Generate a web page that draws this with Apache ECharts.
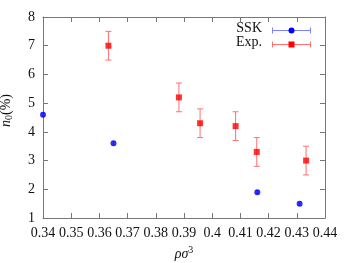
<!DOCTYPE html>
<html><head><meta charset="utf-8">
<script src="https://cdn.jsdelivr.net/npm/echarts@6/dist/echarts.min.js"></script>
<style>html,body{margin:0;padding:0;background:#fff}#c{width:350px;height:263px}</style>
</head><body><div id="c"></div>
<script>
const sskX = [0.340, 0.365, 0.416, 0.431];
const sskY = [4.6, 3.6, 1.9, 1.5];
const sskErr = [0.06, 0.06, 0.06, 0.06];
const expX = [0.3632, 0.3882, 0.3957, 0.4083, 0.4158, 0.4333];
const expY = [7.0, 5.2, 4.3, 4.2, 3.3, 3.0];
const expErr = [0.5, 0.5, 0.5, 0.5, 0.5, 0.5];
const xTicks = [0.34,0.35,0.36,0.37,0.38,0.39,0.40,0.41,0.42,0.43,0.44];
const yTicks = [1,2,3,4,5,6,7,8];

const FONT = 'Liberation Serif';
const chart = echarts.init(document.getElementById('c'));

function errSeries(xs, ys, es, color, cap) {
  return {
    type: 'custom',
    data: xs.map((x,i)=>[x, ys[i]-es[i], ys[i]+es[i]]),
    z: 1,
    renderItem: function(params, api) {
      const lo = api.coord([api.value(0), api.value(1)]);
      const hi = api.coord([api.value(0), api.value(2)]);
      const st = {stroke: color, lineWidth: 1};
      return {type:'group', children:[
        {type:'line', shape:{x1:lo[0],y1:lo[1],x2:hi[0],y2:hi[1]}, style:st},
        {type:'line', shape:{x1:lo[0]-cap,y1:lo[1],x2:lo[0]+cap,y2:lo[1]}, style:st},
        {type:'line', shape:{x1:hi[0]-cap,y1:hi[1],x2:hi[0]+cap,y2:hi[1]}, style:st}
      ]};
    }
  };
}

const axisCommon = {
  axisLine:{show:true, lineStyle:{color:'#777', width:1}},
  axisTick:{show:true, inside:true, length:5, lineStyle:{color:'#777'}},
  splitLine:{show:false}
};

chart.setOption({
  animation:false,
  grid:{left:43, right:25, top:17, bottom:45, containLabel:false, outerBoundsMode:'none'},
  xAxis:[
    Object.assign({type:'value', min:0.34, max:0.44, interval:0.01, position:'bottom',
      axisLabel:{color:'#111', fontFamily:FONT, fontSize:14, margin:8,
        formatter:v=>{const t=xTicks.find(t=>Math.abs(t-v)<1e-6); return t===undefined?'':String(+t.toFixed(2));}},
      name:'{i|ρσ}{s|3}', nameLocation:'middle', nameGap:25,
      nameTextStyle:{rich:{i:{fontFamily:FONT,fontStyle:'italic',fontSize:14,color:'#111'},
        s:{fontFamily:FONT,fontSize:10,color:'#111',verticalAlign:'bottom',padding:[0,0,8,0]}}}
    }, axisCommon),
    Object.assign({type:'value', min:0.34, max:0.44, interval:0.01, position:'top',
      axisLabel:{show:false}}, axisCommon)
  ],
  yAxis:[
    Object.assign({type:'value', min:1, max:8, interval:1, position:'left',
      axisLabel:{color:'#111', fontFamily:FONT, fontSize:14, margin:8},
      name:'{i|n}{s|0}{r|(%)}', nameLocation:'middle', nameGap:29, nameRotate:90,
      nameTextStyle:{padding:[0,0,0,14], rich:{i:{fontFamily:FONT,fontStyle:'italic',fontSize:14,color:'#111'},
        s:{fontFamily:FONT,fontSize:10,color:'#111',padding:[6,0,0,0]},
        r:{fontFamily:FONT,fontSize:14,color:'#111'}}}
    }, axisCommon),
    Object.assign({type:'value', min:1, max:8, interval:1, position:'right',
      axisLabel:{show:false}}, axisCommon)
  ],
  series:[
    errSeries(sskX, sskY, sskErr, '#8080ff', 2),
    {type:'scatter', data:sskX.map((x,i)=>[x,sskY[i]]), symbol:'circle', symbolSize:6,
      itemStyle:{color:'#0000ff'}, z:3},
    errSeries(expX, expY, expErr, '#ff7070', 3),
    {type:'scatter', data:expX.map((x,i)=>[x,expY[i]]), symbol:'rect', symbolSize:6,
      itemStyle:{color:'#ff0000'}, z:3}
  ],
  graphic:[
    {type:'text', right:88, top:21, style:{text:'SSK', font:'14px '+FONT, fill:'#111', textAlign:'right'}},
    {type:'text', right:88, top:35, style:{text:'Exp.', font:'14px '+FONT, fill:'#111', textAlign:'right'}},
    {type:'group', left:270, top:25, children:[
      {type:'line', shape:{x1:0,y1:4,x2:38,y2:4}, style:{stroke:'#8080ff'}},
      {type:'line', shape:{x1:0,y1:1,x2:0,y2:7}, style:{stroke:'#8080ff'}},
      {type:'line', shape:{x1:38,y1:1,x2:38,y2:7}, style:{stroke:'#8080ff'}},
      {type:'circle', shape:{cx:19,cy:4,r:3}, style:{fill:'#0000ff'}}
    ]},
    {type:'group', left:270, top:39, children:[
      {type:'line', shape:{x1:0,y1:4,x2:38,y2:4}, style:{stroke:'#ff7070'}},
      {type:'line', shape:{x1:0,y1:1,x2:0,y2:7}, style:{stroke:'#ff7070'}},
      {type:'line', shape:{x1:38,y1:1,x2:38,y2:7}, style:{stroke:'#ff7070'}},
      {type:'rect', shape:{x:16,y:1,width:6,height:6}, style:{fill:'#ff0000'}}
    ]}
  ]
});
</script></body></html>
